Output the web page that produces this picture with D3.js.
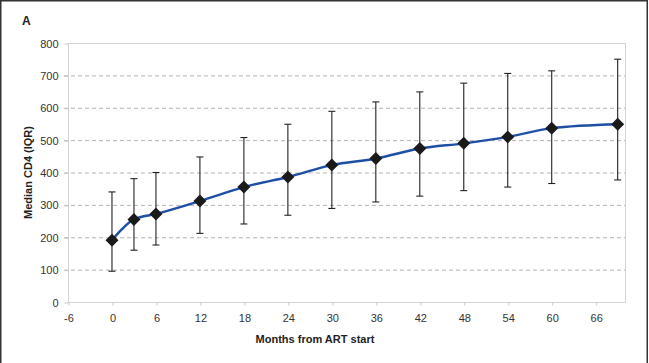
<!DOCTYPE html>
<html>
<head>
<meta charset="utf-8">
<script src="https://cdn.jsdelivr.net/npm/d3@7"></script>
<style>
  body { margin: 0; background: #fff; }
  svg { display: block; font-family: "Liberation Sans", Arial, sans-serif; }
</style>
</head>
<body>
<div id="chart"></div>
<script>
// Data
const months = [0, 3, 6, 12, 18, 24, 30, 36, 42, 48, 54, 60, 69];
const median = [191, 255, 272, 312, 355, 386, 423, 443, 474, 490, 510, 537, 549];
const q1 = [95, 160, 176, 212, 241, 268, 289, 309, 327, 344, 355, 366, 377];
const q3 = [340, 381, 400, 448, 508, 549, 589, 618, 649, 676, 706, 714, 750];
const xTicks = [-6, 0, 6, 12, 18, 24, 30, 36, 42, 48, 54, 60, 66];
const yTicks = [0, 100, 200, 300, 400, 500, 600, 700, 800];

const width = 649, height = 363;
const plot = { left: 68, top: 43, right: 625, bottom: 302 };

const points = months.map((m, i) => ({ m: m, med: median[i], lo: q1[i], hi: q3[i] }));

const svg = d3.select("#chart")
    .append("svg")
    .attr("width", width)
    .attr("height", height);

// outer frame (dark)
svg.append("rect")
    .attr("x", 0.75).attr("y", 0.75)
    .attr("width", width - 2.5).attr("height", height + 5)
    .attr("fill", "none")
    .attr("stroke", "#333")
    .attr("stroke-width", 1.5);

const x = d3.scaleLinear().domain([-6, 70]).range([plot.left, plot.right]);
const y = d3.scaleLinear().domain([0, 800]).range([plot.bottom, plot.top]);

// dashed gridlines
svg.append("g")
    .selectAll("line")
    .data(yTicks.filter(t => t > 0 && t < 800))
    .enter()
    .append("line")
    .attr("x1", plot.left - 4)
    .attr("x2", plot.right)
    .attr("y1", d => y(d) + 0.5)
    .attr("y2", d => y(d) + 0.5)
    .attr("stroke", "#b3b3b3")
    .attr("stroke-dasharray", "4,3");

// plot area frame
svg.append("rect")
    .attr("x", plot.left + 0.5).attr("y", plot.top + 0.5)
    .attr("width", plot.right - plot.left).attr("height", plot.bottom - plot.top)
    .attr("fill", "none")
    .attr("stroke", "#d4d4d4");

// y axis
const yAxis = svg.append("g")
    .attr("transform", `translate(${plot.left + 0.5},0.5)`)
    .call(d3.axisLeft(y).tickValues(yTicks).tickSize(4).tickPadding(6));
yAxis.select(".domain").remove();
yAxis.selectAll(".tick line").attr("stroke", "#c8c8c8");
yAxis.selectAll(".tick text")
    .attr("fill", "#333")
    .style("font-size", "11px")
    .style("font-family", "Liberation Sans, Arial, sans-serif");

// x axis (plain hyphen for the negative tick, as in the original)
const xAxis = svg.append("g")
    .attr("transform", `translate(0.5,${plot.bottom + 0.5})`)
    .call(d3.axisBottom(x).tickValues(xTicks).tickFormat(d => String(d)).tickSize(3).tickPadding(9));
xAxis.select(".domain").remove();
xAxis.selectAll(".tick line").attr("stroke", "#c8c8c8");
xAxis.selectAll(".tick text")
    .attr("fill", "#333")
    .style("font-size", "11px")
    .style("font-family", "Liberation Sans, Arial, sans-serif");

// error bars (IQR)
const bars = svg.append("g")
    .selectAll("g")
    .data(points)
    .enter()
    .append("g")
    .attr("stroke", "#222")
    .attr("stroke-width", 1.1);
bars.append("line")
    .attr("x1", d => x(d.m)).attr("x2", d => x(d.m))
    .attr("y1", d => y(d.hi)).attr("y2", d => y(d.lo));
bars.append("line")
    .attr("x1", d => x(d.m) - 3.5).attr("x2", d => x(d.m) + 3.5)
    .attr("y1", d => y(d.hi)).attr("y2", d => y(d.hi));
bars.append("line")
    .attr("x1", d => x(d.m) - 3.5).attr("x2", d => x(d.m) + 3.5)
    .attr("y1", d => y(d.lo)).attr("y2", d => y(d.lo));

// median line, smoothed like the original
const line = d3.line()
    .x(d => x(d.m))
    .y(d => y(d.med))
    .curve(d3.curveMonotoneX);
svg.append("path")
    .datum(points)
    .attr("d", line)
    .attr("fill", "none")
    .attr("stroke", "#1f4ea6")
    .attr("stroke-width", 2.4);

// diamond markers
svg.append("g")
    .selectAll("path")
    .data(points)
    .enter()
    .append("path")
    .attr("transform", d => `translate(${x(d.m)},${y(d.med)})`)
    .attr("d", "M0,-6.5L6.5,0L0,6.5L-6.5,0Z")
    .attr("fill", "#1a1a1a");

// labels
svg.append("text")
    .attr("x", 22).attr("y", 25)
    .style("font-size", "12px")
    .style("font-weight", "bold")
    .attr("fill", "#222")
    .text("A");

svg.append("text")
    .attr("transform", `translate(32,${(plot.top + plot.bottom) / 2}) rotate(-90)`)
    .attr("text-anchor", "middle")
    .style("font-size", "11px")
    .style("font-weight", "bold")
    .attr("fill", "#222")
    .text("Median CD4 (IQR)");

svg.append("text")
    .attr("x", 315).attr("y", 343)
    .attr("text-anchor", "middle")
    .style("font-size", "11px")
    .style("font-weight", "bold")
    .attr("fill", "#222")
    .text("Months from ART start");
</script>
</body>
</html>
